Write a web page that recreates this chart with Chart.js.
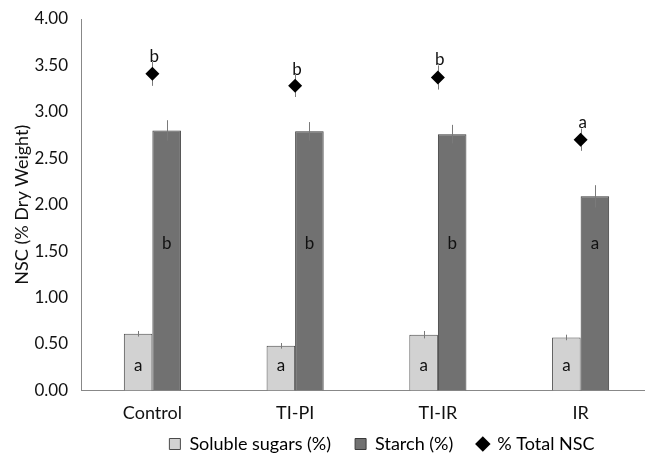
<!DOCTYPE html>
<html><head><meta charset="utf-8">
<script src="https://cdn.jsdelivr.net/npm/chart.js@4.4.1/dist/chart.umd.min.js"></script>
<style>html,body{margin:0;padding:0;overflow:hidden;background:#fff}#wrap{width:652px;height:464px}</style>
</head><body><div id="wrap"><canvas id="c" width="652" height="464"></canvas></div>
<script>
const categories = ["Control", "TI-PI", "TI-IR", "IR"];
const soluble = [0.61, 0.48, 0.60, 0.57];
const solubleErr = [0.03, 0.03, 0.04, 0.03];
const starch = [2.80, 2.79, 2.76, 2.09];
const starchErr = [0.11, 0.10, 0.10, 0.12];
const total = [3.41, 3.28, 3.37, 2.70];
const totalErr = [0.13, 0.12, 0.13, 0.12];
const solubleLetters = ["a", "a", "a", "a"];
const starchLetters = ["b", "b", "b", "a"];
const totalLetters = ["b", "b", "b", "a"];
const yTicks = [0, 0.5, 1, 1.5, 2, 2.5, 3, 3.5, 4];

const FONT = "Lato, 'Open Sans', sans-serif";

const legendFix = {
  id: 'legendFix',
  beforeUpdate(chart) {
    const lg = chart.legend;
    if (lg && !lg._patched) {
      const f = lg.fit;
      lg.fit = function () { f.call(this); this.height = 28; };
      lg._patched = true;
    }
  },
  afterLayout(chart) {
    const lg = chart.legend;
    if (lg) {
      lg.top -= 25; lg.bottom = chart.height; lg.height = lg.bottom - lg.top;
      lg.left += 56; lg.right += 56;
    }
  }
};

const overlay = {
  id: 'overlay',
  afterDatasetsDraw(chart) {
    const ctx = chart.ctx, y = chart.scales.y;
    ctx.save();
    ctx.strokeStyle = '#7a7a7a';
    ctx.lineWidth = 1;
    const errs = [solubleErr, starchErr, totalErr];
    const vals = [soluble, starch, total];
    [0,1,2].forEach(di => {
      const meta = chart.getDatasetMeta(di);
      meta.data.forEach((el, i) => {
        const x = Math.round(el.x) + 0.5;
        ctx.beginPath();
        ctx.moveTo(x, y.getPixelForValue(vals[di][i] + errs[di][i]));
        ctx.lineTo(x, y.getPixelForValue(vals[di][i] - errs[di][i]));
        ctx.stroke();
      });
    });
    ctx.fillStyle = '#000';
    chart.getDatasetMeta(2).data.forEach(el => {
      const r = 7;
      ctx.beginPath();
      ctx.moveTo(el.x, el.y - r); ctx.lineTo(el.x + r, el.y);
      ctx.lineTo(el.x, el.y + r); ctx.lineTo(el.x - r, el.y);
      ctx.closePath(); ctx.fill();
    });
    ctx.fillStyle = '#111';
    ctx.font = "17px " + FONT;
    ctx.textAlign = 'center';
    ctx.textBaseline = 'middle';
    chart.getDatasetMeta(0).data.forEach((el, i) => {
      ctx.fillText(solubleLetters[i], el.x, y.getPixelForValue(0.27));
    });
    chart.getDatasetMeta(1).data.forEach((el, i) => {
      ctx.fillText(starchLetters[i], el.x, y.getPixelForValue(1.58));
    });
    chart.getDatasetMeta(2).data.forEach((el, i) => {
      ctx.fillText(totalLetters[i], el.x + 2, y.getPixelForValue(total[i] + totalErr[i] + 0.06));
    });
    ctx.restore();
  }
};

new Chart(document.getElementById('c'), {
  data: {
    labels: categories,
    datasets: [
      { type: 'bar', label: 'Soluble sugars (%)', data: soluble, backgroundColor: '#d2d2d2', borderColor: '#4a4a4a', borderWidth: 1, categoryPercentage: 0.4, barPercentage: 1.0, order: 2 },
      { type: 'bar', label: 'Starch (%)', data: starch, backgroundColor: '#717171', borderColor: '#3a3a3a', borderWidth: 1, categoryPercentage: 0.4, barPercentage: 1.0, order: 2 },
      { type: 'line', label: '% Total NSC', data: total, showLine: false, pointStyle: 'rectRot', pointRadius: 0, pointHoverRadius: 0, backgroundColor: '#000', borderColor: '#000', order: 1 }
    ]
  },
  options: {
    responsive: false,
    animation: false,
    devicePixelRatio: 1,
    layout: { padding: { top: 19, right: 0, left: 0, bottom: 0 } },
    plugins: {
      tooltip: { enabled: false },
      legend: {
        position: 'bottom',
        labels: {
          font: { family: FONT, size: 18 }, color: '#111',
          boxWidth: 11, boxHeight: 11, padding: 24,
          generateLabels(chart) {
            return [
              { text: 'Soluble sugars (%)', fillStyle: '#d2d2d2', strokeStyle: '#4a4a4a', lineWidth: 1, pointStyle: 'rect', datasetIndex: 0 },
              { text: 'Starch (%)', fillStyle: '#717171', strokeStyle: '#3a3a3a', lineWidth: 1, pointStyle: 'rect', datasetIndex: 1 },
              { text: '% Total NSC', fillStyle: '#000', strokeStyle: '#000', lineWidth: 0, pointStyle: 'rectRot', datasetIndex: 2 }
            ];
          },
          usePointStyle: true
        }
      }
    },
    scales: {
      x: {
        grid: { display: false, drawTicks: false },
        border: { color: '#888', width: 1 },
        ticks: { font: { family: FONT, size: 18 }, color: '#111', padding: 12 }
      },
      y: {
        min: 0, max: 4,
        afterFit(s) { s.width = 81; },
        afterBuildTicks(s) { s.ticks = yTicks.map(v => ({ value: v })); },
        grid: { display: false, drawTicks: true, tickLength: 7, tickColor: '#888' },
        border: { color: '#888', width: 1 },
        title: { display: true, text: 'NSC (% Dry Weight)', font: { family: FONT, size: 18 }, color: '#111', padding: { top: 11, bottom: 4 } },
        ticks: { font: { family: FONT, size: 17 }, color: '#111', padding: 6, callback: v => Number(v).toFixed(2) }
      }
    }
  },
  plugins: [legendFix, overlay]
});
</script></body></html>
